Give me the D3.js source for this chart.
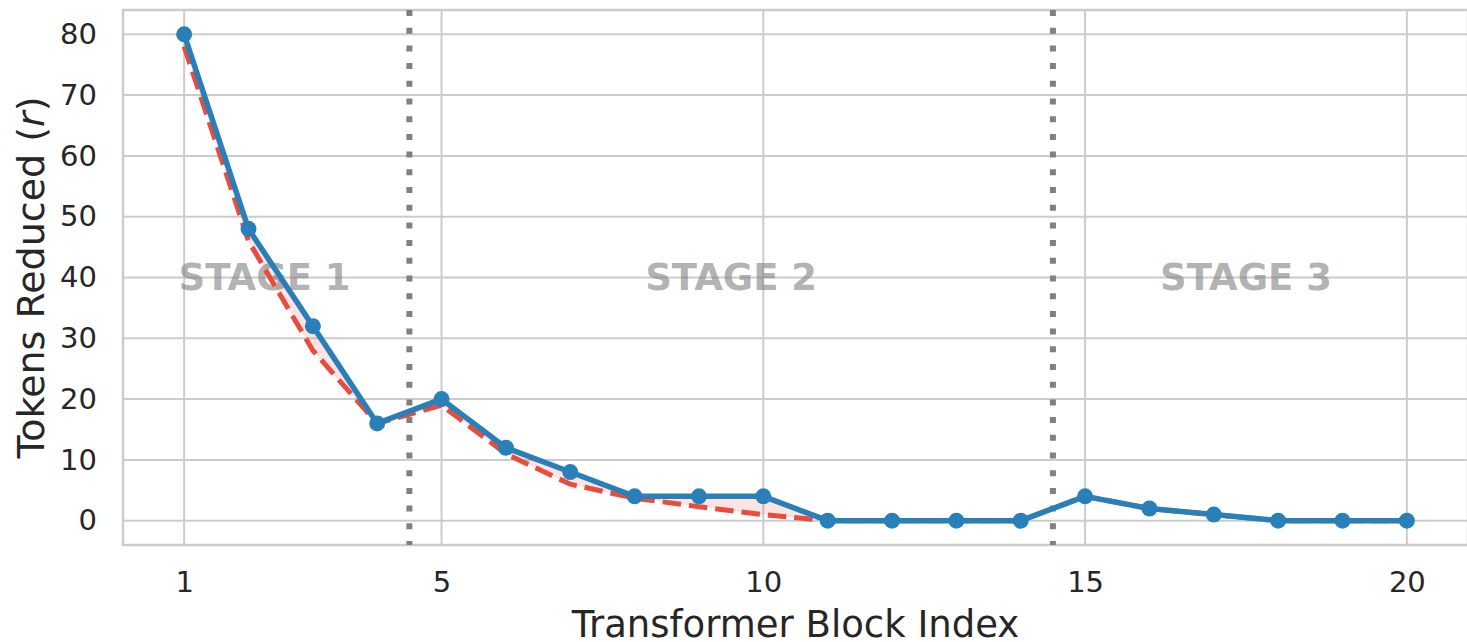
<!DOCTYPE html>
<html>
<head>
<meta charset="utf-8">
<script src="https://cdn.jsdelivr.net/npm/d3@7"></script>
<style>
  body { margin: 0; background: #fff; }
  svg { display: block; font-family: "DejaVu Sans", sans-serif; }
</style>
</head>
<body>
<script>
  // block index on the x axis
  const blocks = [1, 2, 3, 4, 5, 6, 7, 8, 9, 10, 11, 12, 13, 14, 15, 16, 17, 18, 19, 20];
  // tokens reduced per block (blue, markers)
  const tokensReduced = [80, 48, 32, 16, 20, 12, 8, 4, 4, 4, 0, 0, 0, 0, 4, 2, 1, 0, 0, 0];
  // reference schedule (red dashed)
  const referenceSchedule = [78, 46, 28, 16, 19, 11, 6, 3.7, 2.3, 1, 0, 0, 0, 0, 4, 2, 1, 0, 0, 0];
  const xTicks = [1, 5, 10, 15, 20];
  const yTicks = [0, 10, 20, 30, 40, 50, 60, 70, 80];
  const stageBounds = [4.5, 14.5];
  const stageLabels = ["STAGE 1", "STAGE 2", "STAGE 3"];
  const stageCenters = [2.25, 9.5, 17.5];

  const W = 1467, H = 642;
  let xScale = d3.scaleLinear().domain([0.05, 20.95]).range([123, 1468]);
  let yScale = d3.scaleLinear().domain([-4, 84]).range([545, 10]);

  const svg = d3.select("body").append("svg")
    .attr("width", W)
    .attr("height", H);

  const grid = "#cccccc";

  // grid
  svg.append("g").selectAll("line")
    .data(xTicks)
    .enter().append("line")
    .attr("x1", d => xScale(d)).attr("x2", d => xScale(d))
    .attr("y1", yScale(-4)).attr("y2", yScale(84))
    .attr("stroke", grid).attr("stroke-width", 2);

  svg.append("g").selectAll("line")
    .data(yTicks)
    .enter().append("line")
    .attr("x1", xScale(0.05)).attr("x2", xScale(20.95))
    .attr("y1", d => yScale(d)).attr("y2", d => yScale(d))
    .attr("stroke", grid).attr("stroke-width", 2);

  // spines
  svg.append("rect")
    .attr("x", xScale(0.05)).attr("y", yScale(84))
    .attr("width", xScale(20.95) - xScale(0.05))
    .attr("height", yScale(-4) - yScale(84))
    .attr("fill", "none").attr("stroke", grid).attr("stroke-width", 2.5);

  // axes (text only)
  const xAxis = svg.append("g")
    .attr("transform", "translate(0," + yScale(-4) + ")")
    .call(d3.axisBottom(xScale).tickValues(xTicks).tickSize(0).tickPadding(26).tickFormat(d3.format("d")));
  const yAxis = svg.append("g")
    .attr("transform", "translate(" + xScale(0.05) + ",0)")
    .call(d3.axisLeft(yScale).tickValues(yTicks).tickSize(0).tickPadding(26));
  [xAxis, yAxis].forEach(a => {
    a.select(".domain").remove();
    a.selectAll("text").attr("fill", "#262626").style("font-size", "29px").style("font-family", "DejaVu Sans");
  });

  // stage dividers
  svg.append("g").selectAll("line")
    .data(stageBounds)
    .enter().append("line")
    .attr("x1", d => xScale(d)).attr("x2", d => xScale(d))
    .attr("y1", yScale(84)).attr("y2", yScale(-4))
    .attr("stroke", "#808080").attr("stroke-width", 6)
    .attr("stroke-dasharray", "6 11.7");

  // stage labels
  svg.append("g").selectAll("text")
    .data(stageLabels)
    .enter().append("text")
    .attr("x", (d, i) => xScale(stageCenters[i]))
    .attr("y", yScale(40) + 12)
    .attr("text-anchor", "middle")
    .style("font-size", "37px")
    .style("font-weight", "bold")
    .attr("fill", "#808080")
    .attr("fill-opacity", 0.6)
    .text(d => d);

  // fill between the two curves
  const pts = blocks.map((b, i) => ({ x: b, lo: referenceSchedule[i], hi: tokensReduced[i] }));
  svg.append("path")
    .datum(pts)
    .attr("d", d3.area().x(d => xScale(d.x)).y0(d => yScale(d.lo)).y1(d => yScale(d.hi)))
    .attr("fill", "#e74c3c")
    .attr("fill-opacity", 0.15);

  // reference line
  svg.append("path")
    .datum(pts)
    .attr("d", d3.line().x(d => xScale(d.x)).y(d => yScale(d.lo)))
    .attr("fill", "none")
    .attr("stroke", "#e74c3c")
    .attr("stroke-width", 5)
    .attr("stroke-dasharray", "18.5 8");

  // tokens reduced line
  svg.append("path")
    .datum(pts)
    .attr("d", d3.line().x(d => xScale(d.x)).y(d => yScale(d.hi)))
    .attr("fill", "none")
    .attr("stroke", "#2980b9")
    .attr("stroke-width", 5.5)
    .attr("stroke-linejoin", "round");

  svg.append("g").selectAll("circle")
    .data(pts)
    .enter().append("circle")
    .attr("cx", d => xScale(d.x))
    .attr("cy", d => yScale(d.hi))
    .attr("r", 8)
    .attr("fill", "#2980b9");

  // axis labels
  svg.append("text")
    .attr("x", (xScale(0.05) + xScale(20.95)) / 2)
    .attr("y", 637)
    .attr("text-anchor", "middle")
    .attr("fill", "#262626")
    .style("font-size", "37px")
    .text("Transformer Block Index");

  const yl = svg.append("text")
    .attr("transform", "translate(44," + (yScale(84) + yScale(-4)) / 2 + ") rotate(-90)")
    .attr("text-anchor", "middle")
    .attr("fill", "#262626")
    .style("font-size", "38px");
  yl.append("tspan").text("Tokens Reduced (");
  yl.append("tspan").style("font-style", "italic").text("r");
  yl.append("tspan").text(")");
</script>
</body>
</html>
